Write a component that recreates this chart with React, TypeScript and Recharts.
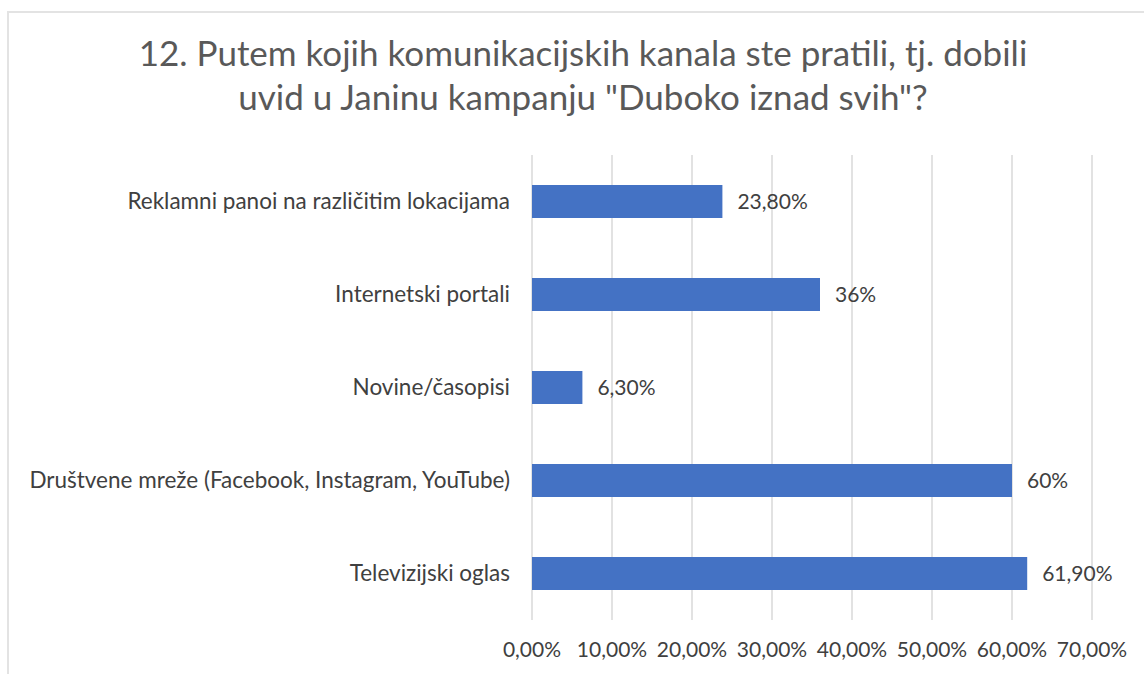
import { BarChart, Bar, XAxis, YAxis, CartesianGrid, LabelList } from 'recharts'

const categories = [
  'Reklamni panoi na različitim lokacijama',
  'Internetski portali',
  'Novine/časopisi',
  'Društvene mreže (Facebook, Instagram, YouTube)',
  'Televizijski oglas',
]
const values = [23.8, 36, 6.3, 60, 61.9]
const valueLabels = ['23,80%', '36%', '6,30%', '60%', '61,90%']
const xTicks = [0, 10, 20, 30, 40, 50, 60, 70]

const titleLines = [
  '12. Putem kojih komunikacijskih kanala ste pratili, tj. dobili',
  'uvid u Janinu kampanju "Duboko iznad svih"?',
]

const data = categories.map((name, i) => ({ name, value: values[i], label: valueLabels[i] }))

const FONT = 'Lato, "Open Sans", sans-serif'

export default function App() {
  return (
    <div style={{ position: 'absolute', left: 0, top: 0, width: 1144, height: 674, overflow: 'hidden', background: '#fff', fontFamily: FONT }}>
      <div style={{ position: 'absolute', left: 7, top: 11, width: 1200, height: 700, border: '2px solid #e3e3e3' }} />
      <div style={{ position: 'absolute', left: 7, width: 1152, top: 30, textAlign: 'center', color: '#595959', fontSize: 35, lineHeight: '44px' }}>
        {titleLines.map((l) => (
          <div key={l}>{l}</div>
        ))}
      </div>
      <div style={{ position: 'absolute', left: 0, top: 0 }}>
        <BarChart
          width={1144}
          height={674}
          data={data}
          layout="vertical"
          margin={{ top: 155, right: 52, bottom: 24, left: 0 }}
          barCategoryGap={0}
        >
          <CartesianGrid horizontal={false} stroke="#d9d9d9" strokeWidth={1.5} />
          <XAxis
            type="number"
            domain={[0, 70]}
            ticks={xTicks}
            axisLine={false}
            tickLine={false}
            tickMargin={16}
            height={30}
            tick={{ fontSize: 21, fill: '#404040', fontFamily: FONT }}
            tickFormatter={(v: number) => v.toFixed(2).replace('.', ',') + '%'}
          />
          <YAxis
            type="category"
            dataKey="name"
            width={532}
            axisLine={false}
            tickLine={false}
            tickSize={0}
            tickMargin={22}
            tick={{ fontSize: 22.5, fill: '#404040', fontFamily: FONT }}
          />
          <Bar dataKey="value" fill="#4472C4" barSize={33} isAnimationActive={false}>
            <LabelList dataKey="label" position="right" offset={15} style={{ fontSize: 21, fill: '#404040', fontFamily: FONT }} />
          </Bar>
        </BarChart>
      </div>
    </div>
  )
}
